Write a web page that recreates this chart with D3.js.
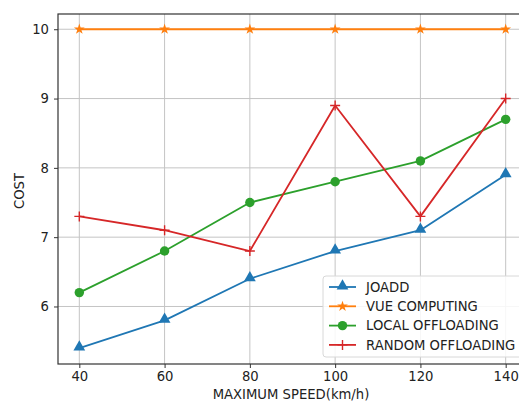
<!DOCTYPE html>
<html>
<head>
<meta charset="utf-8">
<script src="https://cdn.jsdelivr.net/npm/d3@7"></script>
<style>
  body { margin: 0; background: #fff; }
  svg { display: block; font-family: "DejaVu Sans", sans-serif; }
</style>
</head>
<body>
<div id="chart"></div>
<script>
// Chart data
const speeds = [40, 60, 80, 100, 120, 140];
const joadd = [5.4, 5.8, 6.4, 6.8, 7.1, 7.9];
const vueComputing = [10, 10, 10, 10, 10, 10];
const localOffloading = [6.2, 6.8, 7.5, 7.8, 8.1, 8.7];
const randomOffloading = [7.3, 7.1, 6.8, 8.9, 7.3, 9.0];
const xTicks = [40, 60, 80, 100, 120, 140];
const yTicks = [6, 7, 8, 9, 10];

const series = [
    { name: "JOADD", values: joadd, color: "#1f77b4", marker: "triangle" },
    { name: "VUE COMPUTING", values: vueComputing, color: "#ff7f0e", marker: "star" },
    { name: "LOCAL OFFLOADING", values: localOffloading, color: "#2ca02c", marker: "circle" },
    { name: "RANDOM OFFLOADING", values: randomOffloading, color: "#d62728", marker: "plus" }
];

const width = 519;
const height = 403;
const marginTop = 14;
const marginLeft = 58;
const plotRight = 527;   // right spine falls just outside the picture
const plotBottom = 364;
const fontSize = 13.2;

const x = d3.scaleLinear()
    .domain([35, 145])
    .range([marginLeft, plotRight]);

const y = d3.scaleLinear()
    .domain([5.17, 10.22])
    .range([plotBottom, marginTop]);

const svg = d3.select("#chart")
    .append("svg")
    .attr("width", width)
    .attr("height", height)
    .attr("viewBox", [0, 0, width, height]);

// Grid
svg.append("g")
    .attr("stroke", "#c4c4c4")
    .attr("stroke-width", 1)
    .selectAll("line")
    .data(xTicks)
    .join("line")
    .attr("x1", d => x(d)).attr("x2", d => x(d))
    .attr("y1", marginTop).attr("y2", plotBottom);

svg.append("g")
    .attr("stroke", "#c4c4c4")
    .attr("stroke-width", 1)
    .selectAll("line")
    .data(yTicks)
    .join("line")
    .attr("x1", marginLeft).attr("x2", plotRight)
    .attr("y1", d => y(d)).attr("y2", d => y(d));

// Axes
svg.append("g")
    .attr("transform", `translate(0,${plotBottom})`)
    .call(d3.axisBottom(x).tickValues(xTicks).tickFormat(d3.format("d"))
        .tickSize(4).tickPadding(4).tickSizeOuter(0))
    .call(g => g.select(".domain").remove())
    .call(g => g.selectAll(".tick line").attr("stroke", "#333"))
    .call(g => g.selectAll(".tick text")
        .attr("font-size", fontSize)
        .attr("font-family", "DejaVu Sans")
        .attr("fill", "#222"));

svg.append("g")
    .attr("transform", `translate(${marginLeft},0)`)
    .call(d3.axisLeft(y).tickValues(yTicks).tickFormat(d3.format("d"))
        .tickSize(4).tickPadding(5).tickSizeOuter(0))
    .call(g => g.select(".domain").remove())
    .call(g => g.selectAll(".tick line").attr("stroke", "#333"))
    .call(g => g.selectAll(".tick text")
        .attr("font-size", fontSize)
        .attr("font-family", "DejaVu Sans")
        .attr("fill", "#222"));

// Spines
svg.append("rect")
    .attr("x", marginLeft)
    .attr("y", marginTop)
    .attr("width", plotRight - marginLeft)
    .attr("height", plotBottom - marginTop)
    .attr("fill", "none")
    .attr("stroke", "#333")
    .attr("stroke-width", 1.2);

// Axis labels
svg.append("text")
    .attr("x", 291)
    .attr("y", 399)
    .attr("text-anchor", "middle")
    .attr("font-size", fontSize)
    .attr("fill", "#222")
    .text("MAXIMUM SPEED(km/h)");

svg.append("text")
    .attr("transform", `translate(24,${(marginTop + plotBottom) / 2 + 2}) rotate(-90)`)
    .attr("text-anchor", "middle")
    .attr("font-size", fontSize)
    .attr("fill", "#222")
    .text("COST");

// Markers
const symbolFor = {
    triangle: d3.symbol().type(d3.symbolTriangle).size(60),
    star: d3.symbol().type(d3.symbolStar).size(36),
    circle: d3.symbol().type(d3.symbolCircle).size(70)
};

function drawMarker(g, s) {
    if (s.marker === "plus") {
        g.append("path")
            .attr("d", "M-5,0H5M0,-5V5")
            .attr("stroke", s.color)
            .attr("stroke-width", 1.4)
            .attr("fill", "none");
    } else {
        g.append("path")
            .attr("d", symbolFor[s.marker]())
            .attr("fill", s.color)
            .attr("transform", s.marker === "triangle" ? "translate(0,-1)" : null);
    }
}

const line = d3.line()
    .x((d, i) => x(speeds[i]))
    .y(d => y(d));

const plot = svg.append("g");

series.forEach(s => {
    plot.append("path")
        .attr("d", line(s.values))
        .attr("fill", "none")
        .attr("stroke", s.color)
        .attr("stroke-width", 1.8)
        .attr("stroke-linejoin", "round");

    s.values.forEach((v, i) => {
        const g = plot.append("g")
            .attr("transform", `translate(${x(speeds[i])},${y(v)})`);
        drawMarker(g, s);
    });
});

// Legend
const legendX = 323;
const legendY = 276;
const legend = svg.append("g").attr("transform", `translate(${legendX},${legendY})`);

legend.append("rect")
    .attr("width", 200)
    .attr("height", 81)
    .attr("rx", 3)
    .attr("fill", "#fff")
    .attr("fill-opacity", 0.85)
    .attr("stroke", "#d8d8d8");

series.forEach((s, i) => {
    const row = legend.append("g")
        .attr("transform", `translate(0,${11 + i * 19.3})`);
    row.append("line")
        .attr("x1", 6).attr("x2", 33)
        .attr("stroke", s.color)
        .attr("stroke-width", 1.8);
    const m = row.append("g").attr("transform", "translate(19.5,0)");
    drawMarker(m, s);
    row.append("text")
        .attr("x", 43)
        .attr("dy", "0.35em")
        .attr("font-size", fontSize)
        .attr("fill", "#222")
        .text(s.name);
});
</script>
</body>
</html>
